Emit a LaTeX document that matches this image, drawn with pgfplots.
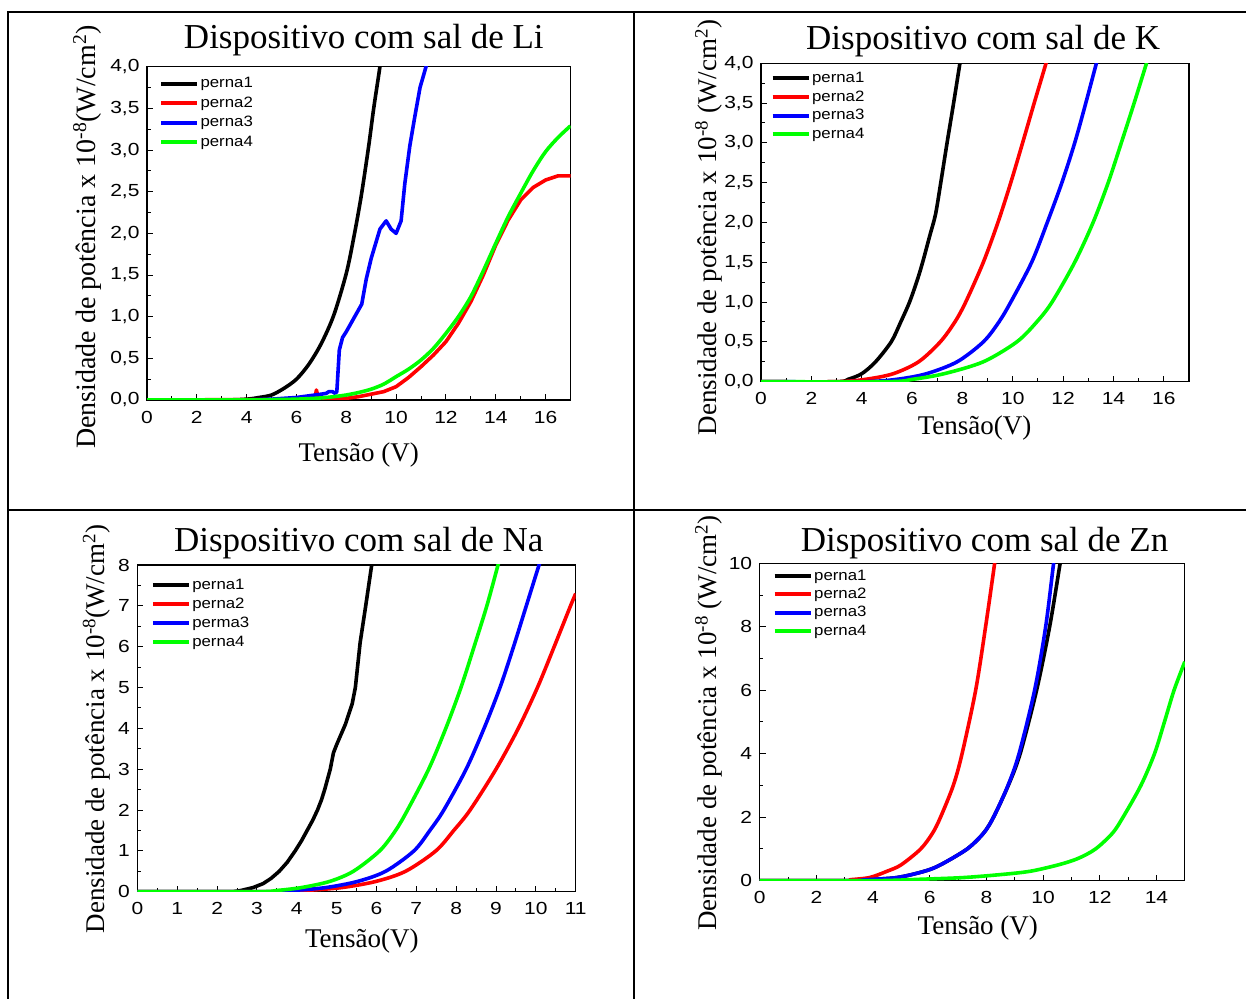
\documentclass[border=0pt]{standalone}
\usepackage{fontspec}
\setmainfont{Liberation Serif}
\setsansfont{Liberation Sans}
\newfontfamily\tickfont[FakeStretch=1.2]{Liberation Sans}
\newfontfamily\legfont[FakeStretch=1.12]{Liberation Sans}
\usepackage{pgfplots}
\pgfplotsset{compat=1.18}
\pgfplotsset{
 panel/.style={
  scale only axis,
  axis line style={line width=1.2pt},
  tick align=inside, xtick pos=bottom, ytick pos=left,
  major tick length=6pt, minor tick length=3.5pt,
  every tick/.style={black, line width=1pt},
  minor x tick num=1, minor y tick num=1,
  ticklabel style={font=\tickfont\fontsize{17.5}{20}\selectfont},
  xticklabel style={yshift=-7.5pt},
  yticklabel style={xshift=-4pt},
  /pgf/number format/assume math mode=true,
  legend cell align=left,
  legend image code/.code={\draw[##1, line width=4pt] (0pt,0pt) -- (36pt,0pt);},
  legend style={draw=none, fill=none, font=\legfont\fontsize{15}{17}\selectfont, anchor=north west, inner sep=0pt,
    nodes={inner sep=1.5pt, text height=11pt, text depth=3pt}},
  every axis plot/.append style={line width=3.6pt, line join=round},
  title style={font=\fontsize{35}{40}\selectfont, anchor=base, yshift=0pt},
  xlabel style={font=\fontsize{27}{32}\selectfont, anchor=base},
  ylabel style={font=\fontsize{27}{32}\selectfont, anchor=center},
 },
 commay/.style={yticklabel style={/pgf/number format/.cd, fixed, fixed zerofill, precision=1, use comma}},
}
\begin{document}
\begin{tikzpicture}
\useasboundingbox (0,0) rectangle (1246pt,998pt);
\fill[white] (0,0) rectangle (1246pt,998pt);
% table lines
\draw[line width=2pt] (8pt,-5pt) -- (8pt,986pt) -- (1250pt,986pt);
\draw[line width=2pt] (634pt,-5pt) -- (634pt,986pt);
\draw[line width=2pt] (8pt,488pt) -- (1250pt,488pt);

% ---------- Li ----------
\begin{axis}[panel, commay, at={(147pt,598pt)}, anchor=south west, width=423.5pt, height=333.3pt,
  xmin=0, xmax=17, ymin=0, ymax=4, xtick={0,2,...,16}, ytick={0,0.5,...,4},
  title={Dispositivo com sal de Li}, title style={at={(axis description cs:0.512,1.036)}},
  xlabel={Tensão (V)}, xlabel style={at={(axis description cs:0.5,-0.185)}},
  ylabel={Densidade de potência x 10\textsuperscript{-8}(W/cm\textsuperscript{2})},
  ylabel style={at={(axis description cs:-0.1417,0.489)}, font=\fontsize{28}{32}\selectfont},
  legend style={at={(axis description cs:0.028,0.975)}, row sep=2.5pt}]
\addplot[black, smooth] coordinates {(0,0) (3,0) (4,0.01) (4.5,0.03) (5,0.06) (5.5,0.14) (6,0.25) (6.5,0.43) (7,0.68) (7.5,1.02) (8,1.52) (8.3,1.95) (8.6,2.45) (8.9,3.05) (9.1,3.5) (9.35,4.0) (9.5,4.35)};
\addlegendentry{perna1}
\addplot[red] coordinates {(0,0) (5,0.005) (6,0.01) (6.5,0.02) (6.75,0.03) (6.8,0.12) (6.87,0.03) (7.5,0.01) (8,0.02) (8.5,0.04) (9,0.07) (9.5,0.1) (10,0.16) (10.5,0.27) (11,0.4) (11.5,0.54) (12,0.7) (12.5,0.92) (13,1.18) (13.5,1.5) (14,1.86) (14.5,2.16) (15,2.4) (15.5,2.55) (16,2.64) (16.5,2.69) (17,2.69)};
\addlegendentry{perna2}
\addplot[blue] coordinates {(0,0) (4,0) (5,0.01) (5.5,0.02) (6,0.03) (6.5,0.05) (7,0.07) (7.2,0.08) (7.3,0.1) (7.45,0.1) (7.55,0.08) (7.62,0.1) (7.72,0.6) (7.85,0.75) (8.0,0.82) (8.3,0.98) (8.62,1.15) (8.8,1.45) (9.0,1.7) (9.2,1.9) (9.35,2.05) (9.6,2.15) (9.8,2.05) (10.0,2.0) (10.2,2.15) (10.35,2.6) (10.55,3.05) (10.75,3.4) (10.96,3.75) (11.2,4.0) (11.3,4.15)};
\addlegendentry{perna3}
\addplot[green, smooth] coordinates {(0,0) (4,0) (5,0.005) (6,0.01) (7,0.025) (7.5,0.04) (8,0.06) (8.5,0.09) (9,0.13) (9.5,0.19) (10,0.28) (10.5,0.37) (11,0.48) (11.5,0.62) (12,0.8) (12.5,1.0) (13,1.24) (13.5,1.55) (14,1.88) (14.5,2.2) (15,2.48) (15.5,2.75) (16,2.98) (16.5,3.15) (17,3.29)};
\addlegendentry{perna4}
\end{axis}

% ---------- K ----------
\begin{axis}[panel, commay, at={(761pt,616.3pt)}, anchor=south west, width=428pt, height=318.4pt,
  xmin=0, xmax=17, ymin=0, ymax=4, xtick={0,2,...,16}, ytick={0,0.5,...,4},
  title={Dispositivo com sal de K}, title style={at={(axis description cs:0.519,1.025)}},
  xlabel={Tensão(V)}, xlabel style={at={(axis description cs:0.499,-0.167)}},
  ylabel={Densidade de potência x 10\textsuperscript{-8} (W/cm\textsuperscript{2})},
  ylabel style={at={(axis description cs:-0.1224,0.484)}},
  legend style={at={(axis description cs:0.022,0.98)}, row sep=1.7pt}]
\addplot[black, smooth] coordinates {(0,0) (3,0) (3.46,0.03) (4.0,0.1) (4.55,0.25) (5.17,0.5) (5.55,0.75) (5.9,1.0) (6.2,1.27) (6.42,1.5) (6.7,1.83) (6.93,2.1) (7.14,2.5) (7.39,3.0) (7.65,3.5) (7.9,4.0) (8.0,4.2)};
\addlegendentry{perna1}
\addplot[red, smooth] coordinates {(0,0) (3,0) (4.16,0.03) (5.25,0.1) (6.26,0.25) (7.12,0.5) (7.7,0.75) (8.13,1.0) (8.83,1.5) (9.41,2.0) (9.92,2.5) (10.39,3.0) (10.85,3.5) (11.32,4.0) (11.4,4.1)};
\addlegendentry{perna2}
\addplot[blue, smooth] coordinates {(0,0) (4,0) (5.4,0.03) (6.57,0.1) (7.79,0.25) (8.83,0.5) (9.45,0.75) (9.92,1.0) (10.75,1.5) (11.37,2.0) (11.95,2.5) (12.46,3.0) (12.9,3.5) (13.32,4.0) (13.4,4.1)};
\addlegendentry{perna3}
\addplot[green, smooth] coordinates {(0,0) (5,0) (6.03,0.03) (7.27,0.1) (8.83,0.25) (10.16,0.5) (10.95,0.75) (11.56,1.0) (12.46,1.5) (13.19,2.0) (13.79,2.5) (14.31,3.0) (14.82,3.5) (15.31,4.0) (15.4,4.1)};
\addlegendentry{perna4}
\end{axis}

% ---------- Na ----------
\begin{axis}[panel, at={(137.4pt,106.3pt)}, anchor=south west, width=438.3pt, height=326.7pt,
  xmin=0, xmax=11, ymin=0, ymax=8, xtick={0,1,...,11}, ytick={0,1,...,8},
  title={Dispositivo com sal de Na}, title style={at={(axis description cs:0.505,1.022)}},
  xlabel={Tensão(V)}, xlabel style={at={(axis description cs:0.512,-0.17)}},
  ylabel={Densidade de potência x 10\textsuperscript{-8}(W/cm\textsuperscript{2})},
  ylabel style={at={(axis description cs:-0.0935,0.498)}},
  legend style={at={(axis description cs:0.030,0.965)}, row sep=2pt}]
\addplot[black] coordinates {(0,0) (2.4,0) (2.6,0.03) (2.9,0.1) (3.16,0.2) (3.36,0.33) (3.56,0.5) (3.76,0.72) (3.96,1.0) (4.12,1.25) (4.26,1.5) (4.4,1.75) (4.52,2.0) (4.62,2.25) (4.7,2.5) (4.84,3.0) (4.92,3.4) (5.0,3.6) (5.22,4.1) (5.39,4.6) (5.47,5.0) (5.59,6.1) (5.73,7.0) (5.88,8.0) (5.95,8.4)};
\addlegendentry{perna1}
\addplot[red, smooth] coordinates {(0,0) (3.5,0) (4.21,0.03) (5.12,0.1) (5.98,0.25) (6.73,0.5) (7.49,1.0) (7.94,1.5) (8.35,2.0) (9.0,3.0) (9.56,4.0) (10.04,5.0) (10.46,6.0) (10.87,7.0) (11.0,7.3)};
\addlegendentry{perna2}
\addplot[blue, smooth] coordinates {(0,0) (3.3,0) (3.9,0.03) (4.72,0.1) (5.52,0.25) (6.23,0.5) (6.94,1.0) (7.34,1.5) (7.69,2.0) (8.25,3.0) (8.7,4.0) (9.1,5.0) (9.44,6.0) (9.76,7.0) (10.08,8.0) (10.15,8.2)};
\addlegendentry{perma3}
\addplot[green, smooth] coordinates {(0,0) (3,0) (3.5,0.03) (4.11,0.1) (4.82,0.25) (5.42,0.5) (6.08,1.0) (6.48,1.5) (6.78,2.0) (7.31,3.0) (7.74,4.0) (8.12,5.0) (8.45,6.0) (8.77,7.0) (9.05,8.0) (9.1,8.2)};
\addlegendentry{perna4}
\end{axis}

% ---------- Zn ----------
\begin{axis}[panel, at={(759.7pt,117.3pt)}, anchor=south west, width=425.1pt, height=317.4pt,
  xmin=0, xmax=15, ymin=0, ymax=10, xtick={0,2,...,14}, ytick={0,2,...,10},
  title={Dispositivo com sal de Zn}, title style={at={(axis description cs:0.529,1.019)}},
  xlabel={Tensão (V)}, xlabel style={at={(axis description cs:0.513,-0.168)}},
  ylabel={Densidade de potência x 10\textsuperscript{-8} (W/cm\textsuperscript{2})},
  ylabel style={at={(axis description cs:-0.120,0.497)}},
  legend style={at={(axis description cs:0.030,0.987)}, row sep=1.3pt}]
\addplot[black, smooth] coordinates {(0,0) (3.2,0) (3.74,0.03) (4.85,0.1) (5.82,0.3) (6.38,0.5) (7.32,1.0) (7.9,1.5) (8.25,2.0) (8.77,3.0) (9.19,4.0) (9.77,6.0) (10.23,8.0) (10.6,10.0) (10.65,10.3)};
\addlegendentry{perna1}
\addplot[red, smooth] coordinates {(0,0) (3,0) (3.19,0.03) (3.88,0.1) (4.5,0.3) (4.99,0.5) (5.68,1.0) (6.1,1.5) (6.38,2.0) (6.83,3.0) (7.14,4.0) (7.62,6.0) (7.97,8.0) (8.29,10.0) (8.33,10.3)};
\addlegendentry{perna2}
\addplot[blue, smooth] coordinates {(0,0) (3.2,0) (3.74,0.03) (4.85,0.1) (5.82,0.3) (6.38,0.5) (7.32,1.0) (7.9,1.5) (8.25,2.0) (8.76,3.0) (9.15,4.0) (9.7,6.0) (10.09,8.0) (10.37,10.0) (10.42,10.3)};
\addlegendentry{perna3}
\addplot[green, smooth] coordinates {(0,0) (4,0) (5.82,0.05) (7.21,0.1) (8.59,0.2) (9.56,0.3) (10.54,0.5) (11.23,0.7) (11.85,1.0) (12.45,1.5) (12.82,2.0) (13.45,3.0) (13.93,4.0) (14.28,5.0) (14.62,6.0) (15.0,6.9)};
\addlegendentry{perna4}
\end{axis}
\end{tikzpicture}
\end{document}
